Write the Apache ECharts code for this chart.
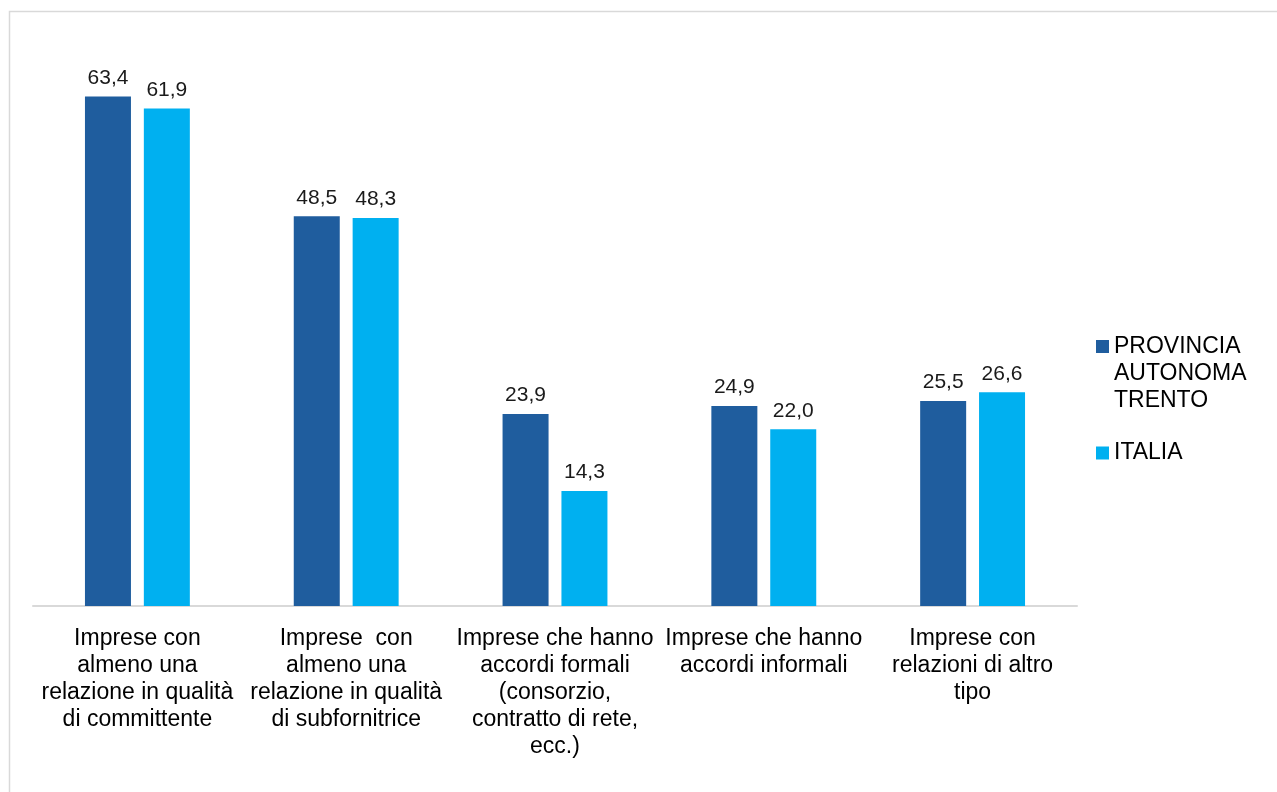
<!DOCTYPE html>
<html>
<head>
<meta charset="utf-8">
<style>
  html, body { margin: 0; padding: 0; background: #fff; }
  #chart { width: 1277px; height: 792px; }
</style>
<script src="https://cdn.jsdelivr.net/npm/echarts@6/dist/echarts.min.js"></script>
</head>
<body>
<div id="chart"></div>
<script>
// Categories (line breaks as laid out under the axis)
const categories = [
  'Imprese con\nalmeno una\nrelazione in qualità\ndi committente',
  'Imprese  con\nalmeno una\nrelazione in qualità\ndi subfornitrice',
  'Imprese che hanno\naccordi formali\n(consorzio,\ncontratto di rete,\necc.)',
  'Imprese che hanno\naccordi informali',
  'Imprese con\nrelazioni di altro\ntipo'
];

// Series values (%)
const trentoName = 'PROVINCIA AUTONOMA TRENTO';
const italiaName = 'ITALIA';
const trentoValues = [63.4, 48.5, 23.9, 24.9, 25.5];
const italiaValues = [61.9, 48.3, 14.3, 22.0, 26.6];

const FONT = '"Liberation Sans", Arial, sans-serif';
const fmt = v => v.toFixed(1).replace('.', ',');

const valueLabel = {
  show: true,
  position: 'top',
  distance: 8,
  fontFamily: FONT,
  fontSize: 21,
  color: '#1a1a1a',
  formatter: p => fmt(p.value)
};

const chart = echarts.init(document.getElementById('chart'), null, { renderer: 'canvas' });

chart.setOption({
  backgroundColor: '#ffffff',
  animation: false,
  graphic: [{
    type: 'rect',
    shape: { x: 9.5, y: 11.5, width: 1400, height: 900 },
    style: { fill: 'none', stroke: '#d9d9d9', lineWidth: 1.5 },
    silent: true
  }],
  grid: { left: 33, right: 200, top: 43.5, bottom: 186, containLabel: false },
  legend: {
    orient: 'vertical',
    left: 1096,
    top: 279,
    padding: 0,
    itemWidth: 13,
    itemHeight: 13,
    itemGap: 25.5,
    icon: 'rect',
    data: [trentoName, italiaName],
    // the long name wraps on three lines; two leading blank lines keep its first line next to the square
    formatter: name => name === trentoName ? '\n\nPROVINCIA\nAUTONOMA\nTRENTO' : name,
    textStyle: { fontFamily: FONT, fontSize: 23, lineHeight: 27, color: '#000' }
  },
  xAxis: {
    type: 'category',
    data: categories,
    axisLine: { show: true, lineStyle: { color: '#d9d9d9', width: 2 } },
    axisTick: { show: false },
    axisLabel: {
      interval: 0,
      margin: 19,
      fontFamily: FONT,
      fontSize: 23,
      lineHeight: 27,
      color: '#000',
      align: 'center',
      verticalAlign: 'top'
    }
  },
  yAxis: {
    type: 'value',
    min: 0,
    max: 70,
    show: false,
    splitLine: { show: false }
  },
  series: [
    {
      name: trentoName,
      type: 'bar',
      data: trentoValues,
      barWidth: 46,
      barGap: '28%',
      itemStyle: { color: '#1f5d9e' },
      label: valueLabel
    },
    {
      name: italiaName,
      type: 'bar',
      data: italiaValues,
      barWidth: 46,
      barGap: '28%',
      itemStyle: { color: '#00b0f0' },
      label: valueLabel
    }
  ]
});
</script>
</body>
</html>
